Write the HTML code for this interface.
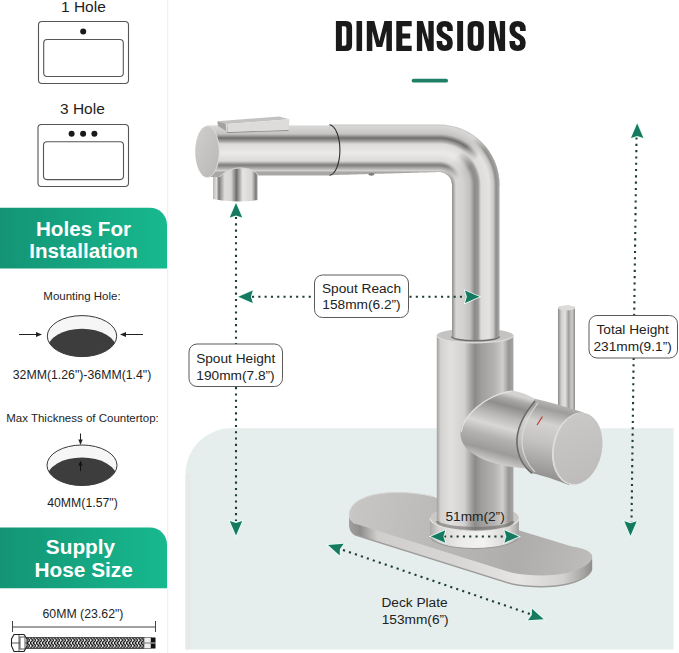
<!DOCTYPE html>
<html><head><meta charset="utf-8">
<style>
html,body{margin:0;padding:0;background:#fff;}
body{width:679px;height:653px;overflow:hidden;position:relative;font-family:"Liberation Sans",sans-serif;}
svg{position:absolute;left:0;top:0;}
</style></head><body>
<svg width="679" height="653" viewBox="0 0 679 653" font-family="Liberation Sans, sans-serif">
<defs>
  <linearGradient id="ban" x1="0" y1="0" x2="1" y2="0">
    <stop offset="0" stop-color="#149474"/>
    <stop offset="1" stop-color="#17b98f"/>
  </linearGradient>
  <marker id="ah" viewBox="0 0 14 12" refX="1" refY="6" markerWidth="14" markerHeight="12" orient="auto" markerUnits="userSpaceOnUse">
    <path d="M0,6 L14,0 L11,6 L14,12 Z" fill="#157a60"/>
  </marker>
</defs>

<!-- LEFT PANEL -->
<line x1="167.7" y1="0" x2="167.7" y2="653" stroke="#eeeeee" stroke-width="1"/>
<g fill="#1e1e1e" font-size="15.5">
  <text x="61" y="11.5">1 Hole</text>
  <text x="60" y="113.5">3 Hole</text>
</g>
<g fill="none" stroke="#555" stroke-width="1.1">
  <rect x="38.5" y="21.5" width="90" height="62" rx="3.5"/>
  <rect x="43.7" y="39.5" width="79.6" height="37" rx="3.5"/>
  <rect x="38" y="124.5" width="90.5" height="62" rx="3.5"/>
  <rect x="43.5" y="141.8" width="80" height="37.8" rx="3.5"/>
</g>
<g fill="#1a1a1a">
  <circle cx="83.2" cy="31.4" r="3"/>
  <circle cx="71.6" cy="133.7" r="3"/>
  <circle cx="83.1" cy="133.7" r="3"/>
  <circle cx="94.4" cy="133.7" r="3"/>
</g>

<path d="M0,207.7 H150 A17,17 0 0 1 167,224.7 V268.6 H0 Z" fill="url(#ban)"/>
<g fill="#fff" font-size="20.6" font-weight="bold" text-anchor="middle">
  <text x="83.5" y="235.6">Holes For</text>
  <text x="83.6" y="257.8">Installation</text>
</g>

<g fill="#1e1e1e" font-size="11.5" text-anchor="middle">
  <text x="82" y="299.5">Mounting Hole:</text>
  <text x="82.5" y="422">Max Thickness of Countertop:</text>
</g>
<g fill="#1e1e1e" font-size="12.3" text-anchor="middle">
  <text x="82" y="378.8">32MM(1.26")-36MM(1.4")</text>
  <text x="82.5" y="507">40MM(1.57")</text>
  <text x="83" y="618">60MM (23.62")</text>
</g>
<!-- mounting hole ellipse -->
<defs>
  <clipPath id="e1"><ellipse cx="82" cy="336.1" rx="34.7" ry="20.5"/></clipPath>
  <clipPath id="e2"><ellipse cx="82" cy="465.25" rx="35" ry="20.25"/></clipPath>
</defs>
<ellipse cx="82" cy="336.1" rx="34.7" ry="20.5" fill="#f6f6f6"/>
<ellipse cx="82" cy="349.3" rx="34.7" ry="20.5" fill="#3d3d3d" clip-path="url(#e1)"/>
<ellipse cx="82" cy="336.1" rx="34.7" ry="20.5" fill="none" stroke="#3a3a3a" stroke-width="1"/>
<g stroke="#222" stroke-width="1" fill="#222">
  <line x1="19" y1="334.5" x2="38" y2="334.5"/>
  <path d="M42,334.5 L36,332 L36,337 Z" stroke="none"/>
  <line x1="124" y1="334.5" x2="143" y2="334.5"/>
  <path d="M120,334.5 L126,332 L126,337 Z" stroke="none"/>
</g>
<ellipse cx="82" cy="465.25" rx="35" ry="20.25" fill="#f6f6f6"/>
<ellipse cx="82" cy="477.75" rx="35" ry="20.25" fill="#3d3d3d" clip-path="url(#e2)"/>
<ellipse cx="82" cy="465.25" rx="35" ry="20.25" fill="none" stroke="#3a3a3a" stroke-width="1"/>
<g stroke="#222" stroke-width="1" fill="#222">
  <line x1="80.5" y1="433.5" x2="80.5" y2="441"/>
  <path d="M80.5,445 L78.3,439.5 L82.7,439.5 Z" stroke="none"/>
  <line x1="80.5" y1="464" x2="80.5" y2="471" stroke="#111"/>
  <path d="M80.5,460.5 L78.5,465.5 L82.5,465.5 Z" fill="#111" stroke="none"/>
</g>

<path d="M0,527.4 H150 A17,17 0 0 1 167,544.4 V588.2 H0 Z" fill="url(#ban)"/>
<g fill="#fff" font-size="20.8" font-weight="bold" text-anchor="middle">
  <text x="80.5" y="554.3">Supply</text>
  <text x="83.7" y="576.5">Hose Size</text>
</g>
<!-- hose dimension line -->
<g stroke="#444" stroke-width="1">
  <line x1="12.5" y1="627" x2="155.5" y2="627"/>
  <line x1="12.5" y1="621" x2="12.5" y2="632"/>
  <line x1="155.5" y1="621" x2="155.5" y2="632"/>
</g>
<!-- hose -->
<defs>
  <pattern id="braid" x="0" y="637.5" width="6" height="5.5" patternUnits="userSpaceOnUse">
    <rect width="6" height="5.5" fill="#f4f4f4"/>
    <path d="M0,0 L3,2.75 L0,5.5 M3,0 L6,2.75 L3,5.5" stroke="#111" stroke-width="1.35" fill="none"/>
  </pattern>
</defs>
<rect x="23" y="637.5" width="121" height="11" fill="url(#braid)"/>
<rect x="23" y="637.5" width="121" height="11" fill="none" stroke="#333" stroke-width="0.8"/>
<rect x="144" y="637.5" width="7" height="11" fill="#eee" stroke="#444" stroke-width="0.6"/>
<line x1="144" y1="643" x2="151" y2="643" stroke="#555" stroke-width="0.8"/>
<rect x="151" y="637.5" width="4.5" height="11" fill="#111"/>
<line x1="151" y1="643" x2="155.5" y2="643" stroke="#fff" stroke-width="0.8"/>
<path d="M14,634.5 H24 L27,639 V646 L24,651.5 H14 L11.5,646 V639 Z" fill="#fff" stroke="#222" stroke-width="1.1"/>
<path d="M11.8,643 H27 M19,634.5 V651.5" stroke="#333" stroke-width="0.8"/>
<rect x="20" y="637" width="5" height="12" fill="#fff" stroke="#333" stroke-width="0.8"/>
<!-- RIGHT -->
<!-- TITLE -->
<g fill="#1a1a1a">
<path fill-rule="evenodd" d="M335.9,21 H346.1 Q352.1,21 352.1,27 V45 Q352.1,51 346.1,51 H335.9 Z M341.9,26.3 H344.6 Q346.40000000000003,26.3 346.40000000000003,28.3 V43.7 Q346.40000000000003,45.7 344.6,45.7 H341.9 Z"/>
<rect x="356.5" y="21" width="5.60" height="30"/>
<path d="M366.8,21 H374.3 L379.35,41 L384.4,21 H391.9 V51 H386.4 V31 L382.15000000000003,47 H376.55 L372.3,31 V51 H366.8 Z"/>
<path d="M396.3,21 H411.7 V26.2 H402.3 V33.4 H410.2 V38.4 H402.3 V45.8 H411.7 V51 H396.3 Z"/>
<path d="M416.9,21 H422.9 L428.4,40 V21 H433.7 V51 H427.7 L422.2,32 V51 H416.9 Z"/>
<path fill="none" stroke="#1a1a1a" stroke-width="5.6" d="M450.0,31 V29 Q450.0,23.8 444.70000000000005,23.8 Q439.40000000000003,23.8 439.40000000000003,29 Q439.40000000000003,33 442.6,34.8 L446.8,37.4 Q450.0,39.2 450.0,43 Q450.0,48.2 444.70000000000005,48.2 Q439.40000000000003,48.2 439.40000000000003,43 V41"/>
<rect x="457.2" y="21" width="5.90" height="30"/>
<path fill-rule="evenodd" d="M474.6,21 H476.8 Q483.8,21 483.8,28 V44 Q483.8,51 476.8,51 H474.6 Q467.6,51 467.6,44 V28 Q467.6,21 474.6,21 Z M475.6,26.3 Q473.3,26.3 473.3,28.6 V43.4 Q473.3,45.7 475.6,45.7 H475.8 Q478.1,45.7 478.1,43.4 V28.6 Q478.1,26.3 475.8,26.3 Z"/>
<path d="M488.9,21 H494.9 L499.8,40 V21 H505.1 V51 H499.1 L494.2,32 V51 H488.9 Z"/>
<path fill="none" stroke="#1a1a1a" stroke-width="5.6" d="M522.9000000000001,31 V29 Q522.9000000000001,23.8 517.6,23.8 Q512.3,23.8 512.3,29 Q512.3,33 515.5,34.8 L519.7,37.4 Q522.9000000000001,39.2 522.9000000000001,43 Q522.9000000000001,48.2 517.6,48.2 Q512.3,48.2 512.3,43 V41"/>
</g>
<rect x="411.7" y="78.7" width="36.3" height="3.9" rx="1.9" fill="#1f7f67"/>

<path d="M185.5,649.5 V474 A46,46 0 0 1 231.5,428.2 H673.5 V649.5 Z" fill="#e5eeec"/>
<rect x="185.5" y="474" width="5" height="175.5" fill="#e6eae9"/>


<!-- FAUCET -->
<defs>
  <linearGradient id="gV" gradientUnits="userSpaceOnUse" x1="439" y1="0" x2="500.0" y2="0">
    <stop offset="0.2098" stop-color="#8d8c8a"/>
    <stop offset="0.2377" stop-color="#a8a7a5"/>
    <stop offset="0.2787" stop-color="#d8d7d5"/>
    <stop offset="0.3934" stop-color="#d3d2d0"/>
    <stop offset="0.5082" stop-color="#c2c1bf"/>
    <stop offset="0.5820" stop-color="#8c8b89"/>
    <stop offset="0.6393" stop-color="#979694"/>
    <stop offset="0.6885" stop-color="#dddcda"/>
    <stop offset="0.8197" stop-color="#e4e3e1"/>
    <stop offset="0.8934" stop-color="#c8c7c5"/>
    <stop offset="0.9344" stop-color="#8e8d8b"/>
    <stop offset="0.9836" stop-color="#a6a5a3"/>
  </linearGradient>
  <radialGradient id="gRV" gradientUnits="userSpaceOnUse" cx="439" cy="185" r="61.0">
    <stop offset="0.2098" stop-color="#8d8c8a"/>
    <stop offset="0.2377" stop-color="#a8a7a5"/>
    <stop offset="0.2787" stop-color="#d8d7d5"/>
    <stop offset="0.3934" stop-color="#d3d2d0"/>
    <stop offset="0.5082" stop-color="#c2c1bf"/>
    <stop offset="0.5820" stop-color="#8c8b89"/>
    <stop offset="0.6393" stop-color="#979694"/>
    <stop offset="0.6885" stop-color="#dddcda"/>
    <stop offset="0.8197" stop-color="#e4e3e1"/>
    <stop offset="0.8934" stop-color="#c8c7c5"/>
    <stop offset="0.9344" stop-color="#8e8d8b"/>
    <stop offset="0.9836" stop-color="#a6a5a3"/>
  </radialGradient>
  <radialGradient id="gR" gradientUnits="userSpaceOnUse" cx="439" cy="185" r="61.0">
    <stop offset="0.2049" stop-color="#a8a7a5"/>
    <stop offset="0.2377" stop-color="#d0cfcd"/>
    <stop offset="0.2787" stop-color="#a9a8a6"/>
    <stop offset="0.3279" stop-color="#7e7d7b"/>
    <stop offset="0.3934" stop-color="#dad9d7"/>
    <stop offset="0.5246" stop-color="#ebeae8"/>
    <stop offset="0.6721" stop-color="#dcdbd9"/>
    <stop offset="0.7213" stop-color="#9f9e9c"/>
    <stop offset="0.7705" stop-color="#6f6e6c"/>
    <stop offset="0.8361" stop-color="#c4c3c1"/>
    <stop offset="0.9016" stop-color="#d0cfcd"/>
    <stop offset="0.9672" stop-color="#d8d7d5"/>
    <stop offset="1.0000" stop-color="#bdbcba"/>
  </radialGradient>
  <linearGradient id="gH" gradientUnits="userSpaceOnUse" x1="0" y1="185" x2="0" y2="124.0">
    <stop offset="0.2049" stop-color="#a8a7a5"/>
    <stop offset="0.2377" stop-color="#d0cfcd"/>
    <stop offset="0.2787" stop-color="#a9a8a6"/>
    <stop offset="0.3279" stop-color="#7e7d7b"/>
    <stop offset="0.3934" stop-color="#dad9d7"/>
    <stop offset="0.5246" stop-color="#ebeae8"/>
    <stop offset="0.6721" stop-color="#dcdbd9"/>
    <stop offset="0.7213" stop-color="#9f9e9c"/>
    <stop offset="0.7705" stop-color="#6f6e6c"/>
    <stop offset="0.8361" stop-color="#c4c3c1"/>
    <stop offset="0.9016" stop-color="#d0cfcd"/>
    <stop offset="0.9672" stop-color="#d8d7d5"/>
    <stop offset="1.0000" stop-color="#bdbcba"/>
  </linearGradient>
  <linearGradient id="gElbowMask" gradientUnits="userSpaceOnUse" x1="433" y1="179" x2="445" y2="191">
    <stop offset="0" stop-color="#000"/>
    <stop offset="1" stop-color="#fff"/>
  </linearGradient>
  <mask id="mElbow" maskUnits="userSpaceOnUse" x="400" y="100" width="120" height="100">
    <rect x="400" y="100" width="120" height="100" fill="url(#gElbowMask)"/>
  </mask>
  <linearGradient id="gCap" x1="0" y1="0" x2="1" y2="1">
    <stop offset="0" stop-color="#d0cfcd"/>
    <stop offset="1" stop-color="#b8b7b5"/>
  </linearGradient>
  <linearGradient id="gNoz" gradientUnits="userSpaceOnUse" x1="213" y1="0" x2="258" y2="0">
    <stop offset="0" stop-color="#b9b8b6"/>
    <stop offset="0.08" stop-color="#e0dfdd"/>
    <stop offset="0.13" stop-color="#7a7977"/>
    <stop offset="0.26" stop-color="#dddcda"/>
    <stop offset="0.40" stop-color="#d7d6d4"/>
    <stop offset="0.52" stop-color="#6f6e6c"/>
    <stop offset="0.66" stop-color="#e6e5e3"/>
    <stop offset="0.86" stop-color="#d6d5d3"/>
    <stop offset="0.95" stop-color="#7d7c7a"/>
    <stop offset="1" stop-color="#a8a7a5"/>
  </linearGradient>
  <linearGradient id="gBody" gradientUnits="userSpaceOnUse" x1="436.8" y1="0" x2="513.4" y2="0">
    <stop offset="0" stop-color="#a09f9d"/>
    <stop offset="0.05" stop-color="#d3d2d0"/>
    <stop offset="0.18" stop-color="#e1e0de"/>
    <stop offset="0.36" stop-color="#d2d1cf"/>
    <stop offset="0.45" stop-color="#a3a2a0"/>
    <stop offset="0.5" stop-color="#8b8a88"/>
    <stop offset="0.58" stop-color="#9f9e9c"/>
    <stop offset="0.75" stop-color="#b3b2b0"/>
    <stop offset="0.86" stop-color="#d0cfcd"/>
    <stop offset="0.94" stop-color="#979694"/>
    <stop offset="1" stop-color="#a5a4a2"/>
  </linearGradient>
  <linearGradient id="gRing" gradientUnits="userSpaceOnUse" x1="430" y1="0" x2="519" y2="0">
    <stop offset="0" stop-color="#a9a8a6"/>
    <stop offset="0.1" stop-color="#d5d4d2"/>
    <stop offset="0.35" stop-color="#ecebe9"/>
    <stop offset="0.6" stop-color="#f2f2f0"/>
    <stop offset="0.88" stop-color="#d9d8d6"/>
    <stop offset="1" stop-color="#a3a2a0"/>
  </linearGradient>
  <linearGradient id="gLev" gradientUnits="userSpaceOnUse" x1="558" y1="0" x2="575" y2="0">
    <stop offset="0" stop-color="#8a8987"/>
    <stop offset="0.2" stop-color="#d0cfcd"/>
    <stop offset="0.42" stop-color="#e3e2e0"/>
    <stop offset="0.62" stop-color="#9f9e9c"/>
    <stop offset="0.82" stop-color="#cfcecc"/>
    <stop offset="1" stop-color="#8d8c8a"/>
  </linearGradient>
  <linearGradient id="gHub" gradientUnits="userSpaceOnUse" x1="0" y1="392" x2="0" y2="470" gradientTransform="rotate(18 520 430)">
    <stop offset="0" stop-color="#c9c8c6"/>
    <stop offset="0.15" stop-color="#d8d7d5"/>
    <stop offset="0.35" stop-color="#a7a6a4"/>
    <stop offset="0.55" stop-color="#d2d1cf"/>
    <stop offset="0.8" stop-color="#b9b8b6"/>
    <stop offset="1" stop-color="#8d8c8a"/>
  </linearGradient>
  <linearGradient id="gPlateTop" gradientUnits="userSpaceOnUse" x1="348" y1="500" x2="592" y2="570">
    <stop offset="0" stop-color="#c8c7c5"/>
    <stop offset="0.35" stop-color="#bbbab8"/>
    <stop offset="0.7" stop-color="#aeadab"/>
    <stop offset="1" stop-color="#bebdbb"/>
  </linearGradient>
  <linearGradient id="gPlateSide" gradientUnits="userSpaceOnUse" x1="348" y1="0" x2="592" y2="0">
    <stop offset="0" stop-color="#a3a2a0"/>
    <stop offset="0.05" stop-color="#8f8e8c"/>
    <stop offset="0.12" stop-color="#cfcecc"/>
    <stop offset="0.45" stop-color="#d8d7d5"/>
    <stop offset="0.7" stop-color="#e6e5e3"/>
    <stop offset="0.88" stop-color="#d3d2d0"/>
    <stop offset="0.96" stop-color="#a9a8a6"/>
    <stop offset="1" stop-color="#8f8e8c"/>
  </linearGradient>
</defs>

<!-- deck plate -->
<defs>
  <path id="plateShape" d="M354.7,523.6 L512,572.8 C540,578 575,576 589,563 C597,555 590,549 572,546.5 L517.8,530 L433,496.5 C410,491 380,491 365,497.5 C350,503 344,516 354.7,523.6 Z"/>
</defs>
<use href="#plateShape" transform="translate(0,12)" fill="#9d9c9a"/>
<g fill="url(#gPlateSide)">
  <use href="#plateShape" transform="translate(0,10.5)"/>
  <use href="#plateShape" transform="translate(0,9)"/>
  <use href="#plateShape" transform="translate(0,7)"/>
  <use href="#plateShape" transform="translate(0,5)"/>
  <use href="#plateShape" transform="translate(0,3)"/>
</g>
<use href="#plateShape" fill="url(#gPlateTop)"/>
<path d="M354.7,523.6 C344,516 350,503 365,497.5 C380,491 410,491 433,496.5" fill="none" stroke="#d6d5d3" stroke-width="1"/>

<!-- base ring -->
<path d="M430,518 V535.6 A44.5,13 0 0 0 519,535.6 V518 Z" fill="url(#gRing)"/>
<path d="M430,535.6 A44.5,13 0 0 0 519,535.6" fill="none" stroke="#9b9a98" stroke-width="1.2"/>
<ellipse cx="474.5" cy="518" rx="44.5" ry="13" fill="#c9c8c6"/>
<path d="M430,518 A44.5,13 0 0 0 519,518" fill="none" stroke="#e4e3e1" stroke-width="1.2"/>
<!-- body -->
<path d="M436.8,335.6 V523 A38.3,7.5 0 0 0 513.4,523 V335.6 Z" fill="url(#gBody)"/>
<path d="M437.5,521 A37.6,7.5 0 0 0 512.7,521" fill="none" stroke="#6f6e6c" stroke-width="3" opacity="0.6"/>
<ellipse cx="475.1" cy="335.6" rx="38.3" ry="7.2" fill="#c4c3c1"/>
<path d="M436.8,335.6 A38.3,7.2 0 0 0 513.4,335.6" fill="none" stroke="#dedddb" stroke-width="1.2"/>
<!-- lever -->
<path d="M558,308 A8.5,2.5 0 0 1 575,308 V420 H558 Z" fill="url(#gLev)"/>
<ellipse cx="566.5" cy="308" rx="8.5" ry="2.5" fill="#dcdbd9"/>
<!-- handle hub -->
<defs>
  <linearGradient id="gHub2" gradientUnits="userSpaceOnUse" x1="500" y1="391" x2="480" y2="465">
    <stop offset="0" stop-color="#d4d3d1"/>
    <stop offset="0.07" stop-color="#a9a8a6"/>
    <stop offset="0.16" stop-color="#8f8e8c"/>
    <stop offset="0.3" stop-color="#b7b6b4"/>
    <stop offset="0.45" stop-color="#d8d7d5"/>
    <stop offset="0.6" stop-color="#b3b2b0"/>
    <stop offset="0.78" stop-color="#9c9b99"/>
    <stop offset="0.92" stop-color="#cdccca"/>
    <stop offset="1" stop-color="#a3a2a0"/>
  </linearGradient>
  <linearGradient id="gCapSec" gradientUnits="userSpaceOnUse" x1="560" y1="402" x2="542" y2="480">
    <stop offset="0" stop-color="#bfbebc"/>
    <stop offset="0.12" stop-color="#9e9d9b"/>
    <stop offset="0.3" stop-color="#d3d2d0"/>
    <stop offset="0.55" stop-color="#c3c2c0"/>
    <stop offset="0.8" stop-color="#a6a5a3"/>
    <stop offset="1" stop-color="#8e8d8b"/>
  </linearGradient>
  <linearGradient id="gEnd" x1="0.2" y1="0" x2="0.6" y2="1">
    <stop offset="0" stop-color="#cbc9c7"/>
    <stop offset="1" stop-color="#bebcba"/>
  </linearGradient>
</defs>
<path d="M511.6,390.5 C500,392 487,398 476,407 C467,415 461,424 460.5,432 C460,440 464,447 470,451.2 C478,458 490,463 507.4,466.4 L525,468.5 C518,455 516,440 518,431 C521,420 527,412 535,405 L535,398.8 C528,395 520,391.5 511.6,390.5 Z" fill="url(#gHub2)"/>
<path d="M535,398.8 C550,402 566,407 583.7,412.6 L569,485 C558,481 545,476 532,473.3 C522,465 516,450 517,438 C518,425 526,412 535,398.8 Z" fill="url(#gCapSec)"/>
<path d="M535,401 C524,414 516,428 517,444 C518,457 524,467 532,473.3" fill="none" stroke="#6b6a68" stroke-width="1.6"/>
<path d="M511.6,391.2 C500,392.7 487,398.7 476.5,407.5 C468,415 462,424 461.2,432" fill="none" stroke="#e4e3e1" stroke-width="1.1"/>
<path d="M538,403 C528,416 521,430 522,444 C523,456 528,465 535,472" fill="none" stroke="#e2e1df" stroke-width="1.2" opacity="0.8"/>
<ellipse cx="577.2" cy="448.8" rx="24.8" ry="36.6" transform="rotate(11 577.2 448.8)" fill="#dedddb"/>
<ellipse cx="578.1" cy="448.6" rx="23.8" ry="35.9" transform="rotate(11 578.1 448.6)" fill="url(#gEnd)"/>
<line x1="537" y1="425" x2="542.5" y2="416.5" stroke="#c0392b" stroke-width="1.2"/>

<!-- vertical pipe -->
<path d="M452,184.5 H499.5 V336.5 A23.75,4.2 0 0 1 452,336.5 Z" fill="url(#gV)"/>
<path d="M451.5,336.5 A24,4.2 0 0 0 499.5,336.5" fill="none" stroke="#6e6d6b" stroke-width="1.4"/>
<!-- elbow -->
<defs><path id="elbowShape" d="M439,124.5 A60.5,60.5 0 0 1 499.5,185 H452 A13,13 0 0 0 439,172 Z"/></defs>
<use href="#elbowShape" fill="url(#gR)"/>
<use href="#elbowShape" fill="url(#gRV)" mask="url(#mElbow)"/>
<!-- horizontal tube -->
<path d="M329,124.5 H439.5 V172 C430,172.5 345,174.5 329,175.3 Z" fill="url(#gH)"/>
<ellipse cx="371.4" cy="174.3" rx="3" ry="1.4" fill="#7d7c7a"/>
<!-- head -->
<path d="M213,173 C222,168 245,166 257.5,170 V200 C245,202.5 225,201.5 213,199 Z" fill="url(#gNoz)"/>
<path d="M207,125.5 H331 V175.5 H258.5 C255,170 247,167.5 238,168 C228,169 223,174 219,177 H207 Z" fill="url(#gH)"/>
<path d="M258.5,175.5 C255,170 247,167.5 238,168 C228,169 223,174 219,177" fill="none" stroke="#d9d8d6" stroke-width="1"/>
<path d="M329.6,124.8 A11,25.3 0 0 1 329.6,175.3" fill="none" stroke="#2f2f2f" stroke-width="1.1"/>
<ellipse cx="207.2" cy="151.7" rx="12" ry="25.7" fill="url(#gCap)"/>
<path d="M207.2,126 A12,25.7 0 0 1 207.2,177.4" fill="none" stroke="#dddcda" stroke-width="1"/>
<!-- button -->
<path d="M227,132.3 L288.5,130.3" stroke="#8f8e8c" stroke-width="1.3"/>
<path d="M217.3,121.3 L279,116.6 L289.5,119.3 L227.2,124 Z" fill="#c3c2c0"/>
<path d="M227.2,124 L289.5,119.3 L288.5,130 L228,132 Z" fill="#dddcda"/>
<path d="M217.3,121.3 L227.2,124 L228,132 L218,126 Z" fill="#a3a2a0"/>
<path d="M226.2,123.8 L227,131.8" stroke="#e8e7e5" stroke-width="1"/>

<!-- ARROWS -->
<defs>
  <path id="ahd" d="M0,0 L-6.2,-14.5 L0,-12.6 L6.2,-14.5 Z"/>
</defs>
<g fill="none" stroke="#1d3d35" stroke-width="2.1" stroke-dasharray="2.1 4.2" stroke-linecap="butt">
  <line x1="236" y1="217" x2="236" y2="521"/>
  <line x1="252" y1="296.8" x2="464" y2="296.8"/>
  <line x1="636.5" y1="137.5" x2="631.5" y2="522"/>
  <line x1="343" y1="550" x2="530" y2="614"/>
  <line x1="444" y1="536.5" x2="506" y2="536.5"/>
</g>
<g fill="#167a61" stroke="#e8fff8" stroke-width="1.6" stroke-linejoin="miter" paint-order="stroke">
  <use href="#ahd" transform="translate(236,203) rotate(180)"/>
  <use href="#ahd" transform="translate(236,535.6)"/>
  <use href="#ahd" transform="translate(238.3,296.8) rotate(90)"/>
  <use href="#ahd" transform="translate(479.5,296.8) rotate(-90)"/>
  <use href="#ahd" transform="translate(637.2,123.4) rotate(180)"/>
  <use href="#ahd" transform="translate(630.5,535.8)"/>
  <use href="#ahd" transform="translate(328,545) rotate(108.9)"/>
  <use href="#ahd" transform="translate(543.7,619.2) rotate(-71.1)"/>
  <use href="#ahd" transform="translate(430.8,536.5) rotate(90)"/>
  <use href="#ahd" transform="translate(518.9,536.5) rotate(-90)"/>
</g>
<!-- LABELS -->
<g fill="#fff" stroke="#5a5a5a" stroke-width="1">
  <rect x="314.5" y="275" width="94" height="42.5" rx="8"/>
  <rect x="189" y="344" width="93.5" height="42.5" rx="8"/>
  <rect x="589" y="315.5" width="88.5" height="42.5" rx="8"/>
</g>
<g fill="#222" font-size="13.7" text-anchor="middle">
  <text x="361.5" y="292.5">Spout Reach</text>
  <text x="361.5" y="308.8">158mm(6.2”)</text>
  <text x="235.7" y="362.5">Spout Height</text>
  <text x="235.5" y="379.5">190mm(7.8”)</text>
  <text x="632.6" y="334.2">Total Height</text>
  <text x="632.6" y="351">231mm(9.1”)</text>
  <text x="475.1" y="520.7">51mm(2”)</text>
  <text x="414.5" y="606.5">Deck Plate</text>
  <text x="415.2" y="623.7">153mm(6”)</text>
</g>

</svg>
</body></html>
